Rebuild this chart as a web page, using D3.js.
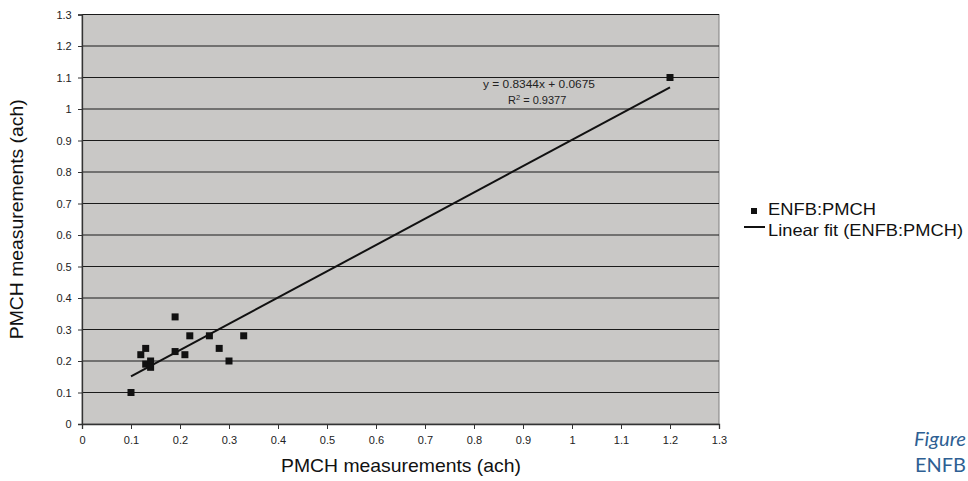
<!DOCTYPE html>
<html>
<head>
<meta charset="utf-8">
<script src="https://cdn.jsdelivr.net/npm/d3@7"></script>
<style>
  body { margin: 0; background: #fff; overflow: hidden; }
  svg { display: block; font-family: "Liberation Sans", Arial, sans-serif; }
</style>
</head>
<body>
<svg id="chart" width="968" height="481"></svg>
<script>
// ENFB vs PMCH air-change measurements (ach)
const pmchX = [0.10, 0.12, 0.13, 0.13, 0.14, 0.14, 0.19, 0.19, 0.21, 0.22, 0.26, 0.28, 0.30, 0.33, 1.20];
const enfbY = [0.10, 0.22, 0.24, 0.19, 0.20, 0.18, 0.34, 0.23, 0.22, 0.28, 0.28, 0.24, 0.20, 0.28, 1.10];
const fitSlope = 0.8344;
const fitIntercept = 0.0675;
const fitR2 = 0.9377;
const tickValues = [0, 0.1, 0.2, 0.3, 0.4, 0.5, 0.6, 0.7, 0.8, 0.9, 1, 1.1, 1.2, 1.3];
const seriesName = "ENFB:PMCH";
const fitName = "Linear fit (ENFB:PMCH)";
const axisTitle = "PMCH measurements (ach)";
const captionLines = ["Figure", "ENFB"];

const svg = d3.select("#chart");
const L = 82, R = 719, T = 14.5, B = 424;
const FONT = "Liberation Sans, Arial, sans-serif";

const x = d3.scaleLinear().domain([0, 1.3]).range([L, R]);
const y = d3.scaleLinear().domain([0, 1.3]).range([B, T]);

// plot background
svg.append("rect").attr("x", L).attr("y", T).attr("width", R - L).attr("height", B - T)
  .attr("fill", "#c9c8c6").attr("stroke", "#7f7f7f").attr("stroke-width", 1);

// horizontal gridlines
svg.append("g").selectAll("line").data(tickValues.filter(v => v > 0)).join("line")
  .attr("x1", L).attr("x2", R)
  .attr("y1", d => y(d)).attr("y2", d => y(d))
  .attr("stroke", "#1a1a1a").attr("stroke-width", 1);

const fmt = d => String(+d.toFixed(1));

// x axis
const gx = svg.append("g").attr("transform", `translate(0,${B})`)
  .call(d3.axisBottom(x).tickValues(tickValues).tickFormat(fmt).tickSizeOuter(0).tickSize(5));
gx.attr("font-family", FONT);
gx.select(".domain").attr("stroke", "#333").attr("stroke-width", 1.3);
gx.selectAll(".tick line").attr("stroke", "#333");
gx.selectAll("text").attr("font-size", 11).attr("fill", "#222").attr("dy", "1.05em");

// y axis
const gy = svg.append("g").attr("transform", `translate(${L},0)`)
  .call(d3.axisLeft(y).tickValues(tickValues).tickFormat(fmt).tickSizeOuter(0).tickSize(4));
gy.attr("font-family", FONT);
gy.select(".domain").attr("stroke", "#333").attr("stroke-width", 1.3);
gy.selectAll(".tick line").attr("stroke", "#333");
gy.selectAll("text").attr("font-size", 11).attr("fill", "#222").attr("dx", "-0.3em");

// linear fit across the data range
const xr = d3.extent(pmchX);
svg.append("line")
  .attr("x1", x(xr[0])).attr("y1", y(fitSlope * xr[0] + fitIntercept))
  .attr("x2", x(xr[1])).attr("y2", y(fitSlope * xr[1] + fitIntercept))
  .attr("stroke", "#111").attr("stroke-width", 2);

// data markers
const m = 7;
svg.append("g").selectAll("rect").data(pmchX.map((v, i) => [v, enfbY[i]])).join("rect")
  .attr("x", d => x(d[0]) - m / 2).attr("y", d => y(d[1]) - m / 2)
  .attr("width", m).attr("height", m).attr("fill", "#111");

// fit equation
const eq = svg.append("g").attr("font-size", 11).attr("fill", "#222");
eq.append("text").attr("x", 483).attr("y", 88)
  .attr("textLength", 112).attr("lengthAdjust", "spacingAndGlyphs")
  .text(`y = ${fitSlope}x + ${fitIntercept}`);
const r2 = eq.append("text").attr("x", 508).attr("y", 104);
r2.append("tspan").text("R");
r2.append("tspan").attr("font-size", 7.5).attr("dy", -4.5).text("2");
r2.append("tspan").attr("dy", 4.5).text(` = ${fitR2}`);

// axis titles
svg.append("text").attr("x", 281).attr("y", 472)
  .attr("font-size", 18.5).attr("fill", "#111")
  .attr("textLength", 240).attr("lengthAdjust", "spacingAndGlyphs").text(axisTitle);
svg.append("text").attr("transform", `translate(23,${(T + B) / 2 + 120}) rotate(-90)`)
  .attr("font-size", 18.5).attr("fill", "#111")
  .attr("textLength", 240).attr("lengthAdjust", "spacingAndGlyphs").text(axisTitle);

// legend
const lg = svg.append("g").attr("font-size", 16.5).attr("fill", "#111");
lg.append("rect").attr("x", 751).attr("y", 208).attr("width", 6).attr("height", 6).attr("fill", "#111");
lg.append("text").attr("x", 768).attr("y", 215)
  .attr("textLength", 108).attr("lengthAdjust", "spacingAndGlyphs").text(seriesName);
lg.append("line").attr("x1", 744).attr("x2", 765).attr("y1", 227).attr("y2", 227)
  .attr("stroke", "#111").attr("stroke-width", 2);
lg.append("text").attr("x", 768).attr("y", 236)
  .attr("textLength", 195).attr("lengthAdjust", "spacingAndGlyphs").text(fitName);

// caption fragment at the page edge
const cap = svg.append("g").attr("fill", "#2e5f93").attr("font-size", 19)
  .attr("font-family", "Lato, 'Open Sans', sans-serif");
cap.append("text").attr("x", 914).attr("y", 446).attr("font-style", "italic")
  .attr("textLength", 52).attr("lengthAdjust", "spacingAndGlyphs").text(captionLines[0]);
cap.append("text").attr("x", 915).attr("y", 472)
  .attr("textLength", 51).attr("lengthAdjust", "spacingAndGlyphs").text(captionLines[1]);
</script>
</body>
</html>
